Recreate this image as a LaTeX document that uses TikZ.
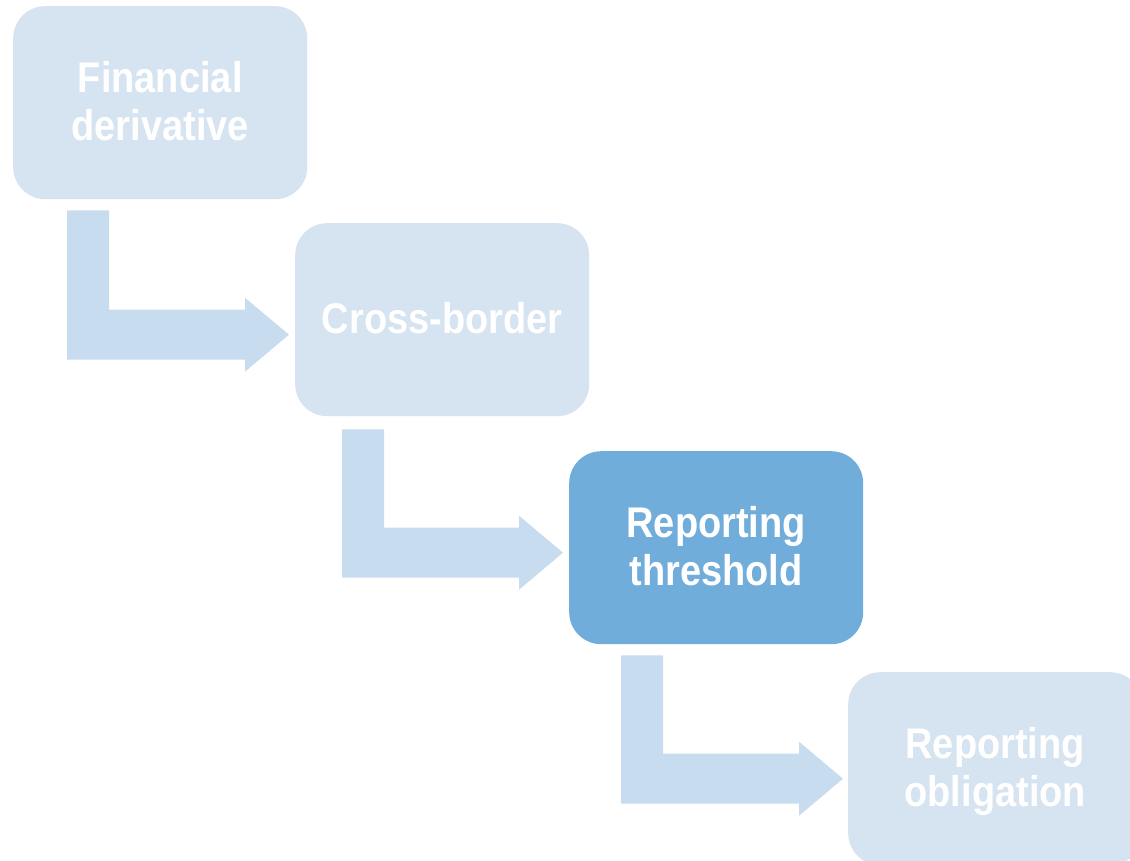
\documentclass[tikz,border=0pt]{standalone}
\usepackage{fontspec}
\usepackage{graphicx}
\setmainfont{Liberation Sans}
\usetikzlibrary{calc}
\definecolor{boxlight}{HTML}{D6E3F0}
\definecolor{boxdark}{HTML}{70ADDB}
\definecolor{arrowfill}{HTML}{C8DCEF}
\newcommand\lbl[1]{\raisebox{-4pt}[\height][\depth]{\scalebox{1}[1.13]{\begin{tabular}{@{}c@{}}#1\end{tabular}}}}
% #1 from node, #2 to node, #3 left offset of bar, #4 gap below, #5 tip dx, #6 tip dy (down)
\newcommand\elbowarrow[6]{%
  \fill[arrowfill] let \p1=($(#1.south west)+(#3,#4)$), \p2=($(#2.west)+(#5,#6)$) in
    (\x1,\y1) -- (\x1+42pt,\y1) -- (\x1+42pt,\y2+25pt) -- (\x2-44pt,\y2+25pt)
    -- (\x2-44pt,\y2+37pt) -- (\x2,\y2) -- (\x2-44pt,\y2-37pt) -- (\x2-44pt,\y2-25pt)
    -- (\x1,\y2-25pt) -- cycle;}
\tikzset{
  stepbox/.style={rounded corners=32pt, minimum width=294pt, minimum height=193pt,
    inner sep=0pt, anchor=north west, text=white,
    font=\fontsize{38}{43}\selectfont\bfseries},
  lightbox/.style={stepbox, fill=boxlight},
  darkbox/.style={stepbox, fill=boxdark},
}
\begin{document}
\begin{tikzpicture}[x=1pt,y=-1pt]
\useasboundingbox (0,0) rectangle (1130,860);
\clip (0,0) rectangle (1130,860);
\node[lightbox] (b1) at (13,6) {\lbl{Financial\\derivative}};
\node[lightbox] (b2) at (295,223) {\lbl{Cross-border}};
\node[darkbox] (b3) at (569,451) {\lbl{Reporting\\threshold}};
\node[lightbox] (b4) at (848,672) {\lbl{Reporting\\obligation}};
\elbowarrow{b1}{b2}{54}{11}{-6}{15}
\elbowarrow{b2}{b3}{47}{13}{-6}{5}
\elbowarrow{b3}{b4}{52}{11}{-5}{10}
\end{tikzpicture}
\end{document}
